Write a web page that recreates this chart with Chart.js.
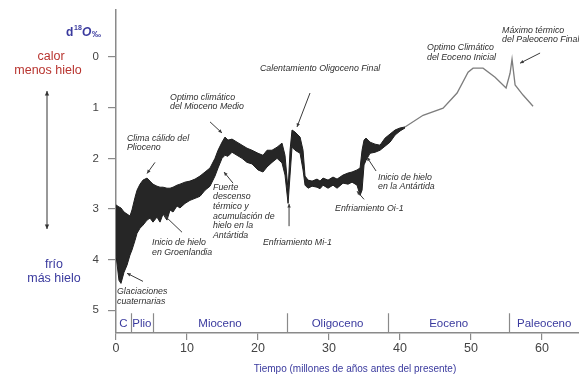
<!DOCTYPE html>
<html>
<head>
<meta charset="utf-8">
<script src="https://cdn.jsdelivr.net/npm/chart.js@4/dist/chart.umd.min.js"></script>
<style>
  html, body { margin: 0; padding: 0; background: #fff; }
</style>
</head>
<body>
<canvas id="c" width="579" height="385"></canvas>
<script>
// Cenozoic deep-sea oxygen isotope record (d18O, per mil), age in millions of years.
// The band (0-40.7 Ma) is given by its lower and upper envelope.
const AGE_BAND = [0, 0.42, 0.70, 1.13, 1.55, 1.97, 2.25, 2.68, 2.96, 3.38, 3.80, 4.37, 4.79, 5.21, 5.77,
  6.20, 6.62, 7.18, 7.61, 8.03, 8.59, 9.01, 9.72, 10.42, 11.13, 11.83, 12.54, 13.24, 13.94, 14.37,
  14.93, 15.35, 15.77, 16.34, 17.04, 17.75, 18.45, 19.15, 20.00, 20.70, 21.27, 21.97, 22.68, 23.38,
  23.80, 24.23, 24.51, 24.79, 25.21, 25.92, 26.34, 26.62, 27.04, 27.61, 28.31, 28.73, 29.15, 29.86,
  30.56, 31.13, 31.97, 32.68, 33.24, 33.94, 34.37, 34.65, 34.93, 35.21, 35.77, 36.48, 37.18, 37.89,
  38.59, 39.30, 40.00, 40.70];
const D18O_TOP = [2.92, 2.96, 2.98, 3.06, 3.10, 3.14, 3.02, 2.77, 2.63, 2.51, 2.43, 2.39, 2.45, 2.51, 2.55,
  2.57, 2.57, 2.59, 2.59, 2.57, 2.53, 2.51, 2.47, 2.45, 2.41, 2.35, 2.27, 2.19, 2.00, 1.84,
  1.68, 1.58, 1.64, 1.62, 1.68, 1.74, 1.80, 1.84, 1.90, 1.94, 1.84, 1.84, 1.78, 1.70,
  1.94, 2.63, 1.84, 1.44, 1.48, 1.58, 1.84, 2.35, 2.43, 2.45, 2.41, 2.45, 2.39, 2.43,
  2.37, 2.41, 2.33, 2.29, 2.27, 2.23, 2.19, 1.84, 1.64, 1.60, 1.68, 1.72, 1.74, 1.60,
  1.52, 1.44, 1.40, 1.38];
const D18O_BOTTOM = [3.91, 4.41, 4.47, 4.25, 4.11, 3.91, 3.81, 3.62, 3.48, 3.38, 3.32, 3.22, 3.18, 3.26, 3.16,
  3.26, 3.10, 3.22, 3.02, 3.06, 2.94, 2.98, 2.89, 2.83, 2.79, 2.75, 2.63, 2.55, 2.35, 2.19,
  2.00, 1.94, 1.96, 1.88, 1.94, 2.00, 2.08, 2.11, 2.23, 2.27, 2.17, 2.08, 2.00, 2.09,
  2.33, 2.89, 2.33, 1.78, 1.84, 1.90, 2.23, 2.53, 2.59, 2.55, 2.57, 2.60, 2.53, 2.59,
  2.53, 2.59, 2.49, 2.51, 2.47, 2.53, 2.73, 2.63, 2.13, 2.04, 1.90, 1.88, 1.84, 1.76,
  1.68, 1.54, 1.46, 1.40];
// Older part of the record, drawn as a single line.
const AGE_LINE = [40.70, 43.24, 46.06, 48.03, 49.58, 50.28, 51.69, 53.38, 54.93, 55.49, 55.77, 56.20, 57.32, 58.73];
const D18O_LINE = [1.38, 1.15, 1.01, 0.71, 0.30, 0.22, 0.22, 0.40, 0.61, 0.32, 0.04, 0.55, 0.75, 0.97];

const X_TICKS = [0, 10, 20, 30, 40, 50, 60];
const Y_TICKS = [0, 1, 2, 3, 4, 5];
const EPOCH_NAMES = ['C', 'Plio', 'Mioceno', 'Oligoceno', 'Eoceno', 'Paleoceno'];
const EPOCH_BOUNDS = [0, 2.1, 5.2, 24.1, 38.3, 55.4, 65.2];

// Callout texts: text anchor and optional arrow (from, to), in axis units.
const NOTES = [
  { lines: ['Glaciaciones', 'cuaternarias'], at: [0.14, 4.64], arrow: [[3.80, 4.43], [1.55, 4.27]] },
  { lines: ['Inicio de hielo', 'en Groenlandia'], at: [5.07, 3.66], arrow: [[9.30, 3.46], [6.76, 3.12]] },
  { lines: ['Clima cálido del', 'Plioceno'], at: [1.55, 1.60], arrow: [[5.49, 2.08], [4.37, 2.30]] },
  { lines: ['Optimo climático', 'del Mioceno Medio'], at: [7.61, 0.79], arrow: [[13.24, 1.28], [14.93, 1.50]] },
  { lines: ['Fuerte', 'descenso', 'térmico y', 'acumulación de', 'hielo en la', 'Antártida'], at: [13.66, 2.57],
    arrow: [[16.48, 2.49], [15.21, 2.27]] },
  { lines: ['Enfriamiento Mi-1'], at: [20.70, 3.66], arrow: [[24.37, 3.34], [24.37, 2.90]] },
  { lines: ['Calentamiento Oligoceno Final'], at: [20.28, 0.22], arrow: [[27.32, 0.71], [25.49, 1.38]] },
  { lines: ['Enfriamiento Oi-1'], at: [30.85, 3.00], arrow: [[34.93, 2.81], [33.94, 2.65]] },
  { lines: ['Inicio de hielo', 'en la Antártida'], at: [36.90, 2.37], arrow: [[36.62, 2.25], [35.35, 1.98]] },
  { lines: ['Optimo Climático', 'del Eoceno Inicial'], at: [43.80, -0.18] },
  { lines: ['Máximo térmico', 'del Paleoceno Final'], at: [54.37, -0.53], arrow: [[59.72, -0.08], [56.90, 0.12]] }
];

const BLUE = '#3a3a9e';
const RED = '#b8342f';
const AXIS = '#8a8a8a';
const NOTE_FONT = 'italic 8.8px "Liberation Sans", sans-serif';

function arrowLine(ctx, x1, y1, x2, y2, head) {
  ctx.beginPath();
  ctx.moveTo(x1, y1);
  ctx.lineTo(x2, y2);
  ctx.stroke();
  const a = Math.atan2(y2 - y1, x2 - x1);
  ctx.beginPath();
  ctx.moveTo(x2, y2);
  ctx.lineTo(x2 - head * Math.cos(a - 0.45), y2 - head * Math.sin(a - 0.45));
  ctx.lineTo(x2 - head * Math.cos(a + 0.45), y2 - head * Math.sin(a + 0.45));
  ctx.closePath();
  ctx.fill();
}

const decor = {
  id: 'decor',
  afterDraw(chart) {
    const { ctx, chartArea, scales: { x, y } } = chart;
    ctx.save();

    // Epoch strip along the bottom of the plot
    const stripTop = y.getPixelForValue(5.06);
    const stripBottom = chartArea.bottom;
    ctx.strokeStyle = AXIS;
    ctx.lineWidth = 1.2;
    for (let i = 1; i < EPOCH_BOUNDS.length - 1; i++) {
      const px = Math.round(x.getPixelForValue(EPOCH_BOUNDS[i])) + 0.5;
      ctx.beginPath();
      ctx.moveTo(px, stripTop);
      ctx.lineTo(px, stripBottom);
      ctx.stroke();
    }
    ctx.fillStyle = BLUE;
    ctx.font = '11.5px "Liberation Sans", sans-serif';
    ctx.textAlign = 'center';
    ctx.textBaseline = 'middle';
    EPOCH_NAMES.forEach((name, i) => {
      const cx = (x.getPixelForValue(EPOCH_BOUNDS[i]) + x.getPixelForValue(EPOCH_BOUNDS[i + 1])) / 2;
      ctx.fillText(name, cx, (stripTop + stripBottom) / 2 + 1);
    });

    // Callouts
    ctx.font = NOTE_FONT;
    ctx.textAlign = 'left';
    ctx.strokeStyle = '#3a3a3a';
    ctx.lineWidth = 1;
    NOTES.forEach(n => {
      const tx = x.getPixelForValue(n.at[0]);
      const ty = y.getPixelForValue(n.at[1]);
      ctx.fillStyle = '#2e2e2e';
      n.lines.forEach((t, k) => ctx.fillText(t, tx, ty + k * 9.7));
      if (n.arrow) {
        ctx.fillStyle = '#3a3a3a';
        arrowLine(ctx,
          x.getPixelForValue(n.arrow[0][0]), y.getPixelForValue(n.arrow[0][1]),
          x.getPixelForValue(n.arrow[1][0]), y.getPixelForValue(n.arrow[1][1]), 4);
      }
    });

    // Axis label d18O (per mil)
    ctx.fillStyle = BLUE;
    ctx.textAlign = 'left';
    ctx.textBaseline = 'alphabetic';
    ctx.font = 'bold 12px "Liberation Sans", sans-serif';
    ctx.fillText('d', 66, 36);
    ctx.font = 'bold 7px "Liberation Sans", sans-serif';
    ctx.fillText('18', 74, 30);
    ctx.font = 'bold italic 12px "Liberation Sans", sans-serif';
    ctx.fillText('O', 82, 36);
    ctx.font = 'bold 9px "Liberation Sans", sans-serif';
    ctx.fillText('‰', 92, 37);

    // Warm / cold side labels and the double arrow between them
    ctx.textAlign = 'center';
    ctx.textBaseline = 'middle';
    ctx.font = '12.5px "Liberation Sans", sans-serif';
    ctx.fillStyle = RED;
    ctx.fillText('calor', 51, 57);
    ctx.fillText('menos hielo', 48, 71);
    ctx.fillStyle = BLUE;
    ctx.fillText('frío', 54, 265);
    ctx.fillText('más hielo', 54, 279);

    ctx.strokeStyle = '#333';
    ctx.fillStyle = '#333';
    ctx.lineWidth = 1;
    arrowLine(ctx, 47, 160, 47, 91, 5);
    arrowLine(ctx, 47, 160, 47, 229, 5);

    // Horizontal axis title
    ctx.fillStyle = BLUE;
    ctx.font = '10px "Liberation Sans", sans-serif';
    ctx.fillText('Tiempo (millones de años antes del presente)', 355, 369);

    ctx.restore();
  }
};

const toPoints = (xs, ys) => xs.map((v, i) => ({ x: v, y: ys[i] }));

new Chart(document.getElementById('c'), {
  type: 'line',
  data: {
    datasets: [
      {
        data: toPoints(AGE_BAND, D18O_TOP),
        borderColor: '#1e1e1e',
        borderWidth: 1,
        pointRadius: 0,
        tension: 0,
        fill: false
      },
      {
        data: toPoints(AGE_BAND, D18O_BOTTOM),
        borderColor: '#1e1e1e',
        borderWidth: 1,
        backgroundColor: '#262626',
        pointRadius: 0,
        tension: 0,
        fill: 0
      },
      {
        data: toPoints(AGE_LINE, D18O_LINE),
        borderColor: '#7d7d7d',
        borderWidth: 1.3,
        pointRadius: 0,
        tension: 0,
        fill: false
      }
    ]
  },
  options: {
    responsive: false,
    animation: false,
    events: [],
    layout: { padding: { top: 10, right: 0, left: 0, bottom: 0 } },
    plugins: { legend: { display: false }, tooltip: { enabled: false } },
    scales: {
      x: {
        type: 'linear',
        min: 0,
        max: 65.2,
        afterBuildTicks: s => { s.ticks = X_TICKS.map(v => ({ value: v })); },
        afterFit: s => { s.height = 52; s.paddingLeft = 0; s.paddingRight = 0; },
        grid: { drawOnChartArea: false, color: AXIS, tickLength: 7, lineWidth: 1.2 },
        border: { color: AXIS, width: 1.5 },
        ticks: {
          color: '#444',
          padding: 1,
          autoSkip: false,
          maxRotation: 0,
          font: { size: 12.5, family: '"Liberation Sans", sans-serif' }
        }
      },
      y: {
        type: 'linear',
        reverse: true,
        min: -0.93,
        max: 5.45,
        afterBuildTicks: s => { s.ticks = Y_TICKS.map(v => ({ value: v })); },
        afterFit: s => { s.width = 116; s.paddingTop = 0; s.paddingBottom = 0; },
        grid: { drawOnChartArea: false, color: AXIS, tickLength: 8, lineWidth: 1.2 },
        border: { color: AXIS, width: 1.5 },
        ticks: {
          color: '#444',
          padding: 9,
          font: { size: 11.5, family: '"Liberation Sans", sans-serif' }
        }
      }
    }
  },
  plugins: [decor]
});
</script>
</body>
</html>
